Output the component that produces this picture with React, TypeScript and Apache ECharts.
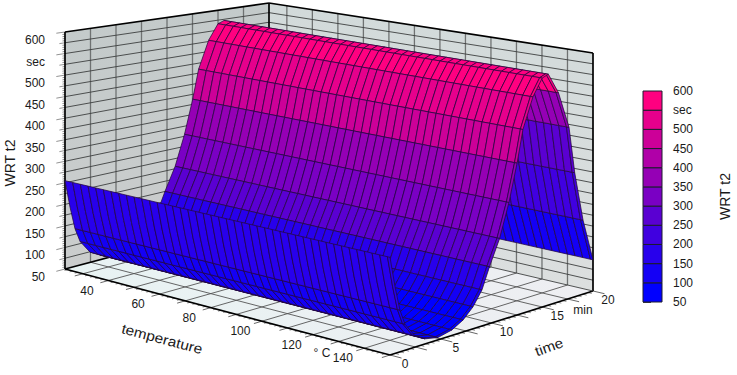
import React, { useEffect, useRef } from "react";
import * as echarts from "echarts";

// ---- data ----
const temperatures = [33, 36, 39, 42, 45, 48, 51, 54, 57, 60, 63, 66, 69, 72, 75, 78, 81, 84, 87, 90, 93, 96, 99, 102, 105, 108, 111, 114, 117, 120, 123, 126, 129, 132, 135, 138, 141, 144, 147, 150, 153, 156, 159, 160];
const rowTimes = [0, 0.5, 0.98, 1.48, 2.46, 3.44, 4.72, 6.1, 7.2, 8.18, 9.06, 9.8, 10.8, 11.72, 12.52, 13.1, 14.08, 15, 15.6, 16.6, 17.64, 18.2, 19.02, 20];
const rowWrt = [255, 190, 138, 105, 74, 61, 55, 62, 76, 98, 129, 175, 231, 305, 388, 460, 528, 566, 572, 525, 441, 334, 220, 122];
const rowRuled = [1, 0, 1, 1, 1, 1, 1, 1, 1, 1, 1, 1, 1, 1, 1, 1, 1, 1, 1, 1, 1, 1, 1, 1];
const rowBands = [2, 1, 1, 0, 0, 0, 0, 0, 1, 2, 4, 5, 6, 8, 9, 10, 10, 10, 6, 4, 3, 1];
const bandColors = ["#0000ff", "#1400f5", "#2800ec", "#4000e0", "#5a00d2", "#7a00c4", "#9500b5", "#b000a8", "#cc0098", "#e6008c", "#ff0080"];
const wrtLevels = [50, 100, 150, 200, 250, 300, 350, 400, 450, 500, 550, 600];
const tempTickLabels = [40, 60, 80, 100, 120, 140];
const timeTickLabels = [0, 5, 10, 15, 20];
const wrtTickLabels = ["50", "100", "150", "200", "250", "300", "350", "400", "450", "500", "sec", "600"];
const tempGrid = [40, 50, 60, 70, 80, 90, 100, 110, 120, 130, 140, 150];
const timeGrid = [2.5, 5, 7.5, 10, 12.5, 15, 17.5];
const wrtGrid = [75, 100, 125, 150, 175, 200, 225, 250, 275, 300, 325, 350, 375, 400, 425, 450, 475, 500, 525, 550, 575];

// ---- projection of the box ----
const T_MIN = 33, T_MAX = 160, TIME_MAX = 20, W_MIN = 50, W_MAX = 600;
const FLOOR_CORNERS = [[65, 269], [390, 355], [593, 291], [269, 215]];
const TOP_CORNERS = [[65, 32], [390, 93], [593, 53], [269, 3]];
const FONT = "Liberation Sans";

function bilinear(c: number[][], u: number, v: number) {
  const a = (1 - v) * (1 - u), b = (1 - v) * u, d = v * u, e = v * (1 - u);
  return [a * c[0][0] + b * c[1][0] + d * c[2][0] + e * c[3][0], a * c[0][1] + b * c[1][1] + d * c[2][1] + e * c[3][1]];
}
function project(T: number, t: number, z: number) {
  const u = (T - T_MIN) / (T_MAX - T_MIN), v = t / TIME_MAX, w = (z - W_MIN) / (W_MAX - W_MIN);
  const f = bilinear(FLOOR_CORNERS, u, v), p = bilinear(TOP_CORNERS, u, v);
  return [f[0] + (p[0] - f[0]) * w, f[1] + (p[1] - f[1]) * w];
}

// ---- box faces ----
const gradient = (x0: number, y0: number, x1: number, y1: number, a: string, b: string) =>
  new echarts.graphic.LinearGradient(x0, y0, x1, y1, [{ offset: 0, color: a }, { offset: 1, color: b }]);
const faces = [
  { pts: [[T_MIN, 0, W_MIN], [T_MIN, TIME_MAX, W_MIN], [T_MIN, TIME_MAX, W_MAX], [T_MIN, 0, W_MAX]], fill: () => gradient(0, 0, 0, 1, "#c3caca", "#cbcdcd") },
  { pts: [[T_MIN, TIME_MAX, W_MIN], [T_MAX, TIME_MAX, W_MIN], [T_MAX, TIME_MAX, W_MAX], [T_MIN, TIME_MAX, W_MAX]], fill: () => gradient(0, 0, 0, 1, "#d2dada", "#dcdfdf") },
  { pts: [[T_MIN, 0, W_MIN], [T_MAX, 0, W_MIN], [T_MAX, TIME_MAX, W_MIN], [T_MIN, TIME_MAX, W_MIN]], fill: () => gradient(0, 0, 1, 0, "#e8f3f3", "#eeeef2") },
];

// ---- line segments in data space: [T1,t1,z1,T2,t2,z2,style] ----
const lineStyles = [
  { stroke: "#6f7272", lineWidth: 1.3 },
  { stroke: "#3d3f3f", lineWidth: 0.9 },
  { stroke: "#555555", lineWidth: 0.9 },
  { stroke: "#000000", lineWidth: 1.7 },
  { stroke: "#777777", lineWidth: 0.8 },
];
const segs: number[][] = [];
timeGrid.forEach((t) => {
  segs.push([T_MIN, t, W_MIN, T_MIN, t, W_MAX, 0]);
  segs.push([T_MIN, t, W_MIN, T_MAX, t, W_MIN, 2]);
});
tempGrid.forEach((T) => {
  segs.push([T, TIME_MAX, W_MIN, T, TIME_MAX, W_MAX, 0]);
  segs.push([T, 0, W_MIN, T, TIME_MAX, W_MIN, 2]);
});
wrtGrid.forEach((z) => {
  segs.push([T_MIN, 0, z, T_MIN, TIME_MAX, z, 1]);
  segs.push([T_MIN, TIME_MAX, z, T_MAX, TIME_MAX, z, 1]);
});
// axis ticks
for (let z = W_MIN; z <= W_MAX; z += 5) {
  const len = z % 50 === 0 ? 0.85 : z % 25 === 0 ? 0.55 : 0.25;
  segs.push([T_MIN, -len, z, T_MIN, 0, z, 4]);
}
for (let T = 34; T <= T_MAX; T += 2) {
  const len = T % 10 === 0 ? 0.8 : 0.3;
  segs.push([T, -len, W_MIN, T, 0, W_MIN, T % 10 === 0 ? 2 : 4]);
}
for (let t = 0; t <= TIME_MAX; t += 0.5) {
  const len = t % 2.5 === 0 ? 4.5 : 1.5;
  segs.push([T_MAX, t, W_MIN, T_MAX + len, t, W_MIN, t % 2.5 === 0 ? 2 : 4]);
}
// box edges
segs.push([T_MIN, 0, W_MAX, T_MIN, TIME_MAX, W_MAX, 3]);
segs.push([T_MIN, TIME_MAX, W_MAX, T_MAX, TIME_MAX, W_MAX, 3]);
segs.push([T_MIN, 0, W_MIN, T_MIN, 0, W_MAX, 3]);
segs.push([T_MIN, TIME_MAX, W_MIN, T_MIN, TIME_MAX, W_MAX, 3]);
segs.push([T_MAX, TIME_MAX, W_MIN, T_MAX, TIME_MAX, W_MAX, 3]);
segs.push([T_MIN, 0, W_MIN, T_MAX, 0, W_MIN, 3]);
segs.push([T_MAX, 0, W_MIN, T_MAX, TIME_MAX, W_MIN, 3]);
segs.push([T_MIN, 0, W_MIN, T_MIN, TIME_MAX, W_MIN, 3]);
segs.push([T_MIN, TIME_MAX, W_MIN, T_MAX, TIME_MAX, W_MIN, 1]);

// ---- surface cells, far to near ----
const ruledRows = rowRuled.map((r, i) => (r ? i : -1)).filter((i) => i >= 0);
const cells: number[][] = [];
for (let g = ruledRows.length - 2; g >= 0; g--) {
  for (let c = 0; c < temperatures.length - 1; c++) cells.push([c, g]);
}

// ---- texts placed from the projection ----
type Lab = { text: string; x: number; y: number; rot?: number; size?: number; align?: string; sx?: number };
const labels: Lab[] = [];
tempTickLabels.forEach((T) => {
  const p = project(T, 0, W_MIN);
  labels.push({ text: String(T), x: p[0] + 4, y: p[1] + 17 });
});
timeTickLabels.forEach((t) => {
  const p = project(T_MAX, t, W_MIN);
  labels.push({ text: String(t), x: p[0] + 15, y: p[1] + 9 });
});
wrtLevels.forEach((z, i) => {
  const p = project(T_MIN, 0, z);
  labels.push({ text: wrtTickLabels[i], x: p[0] - 20, y: p[1] + 8, align: "right" });
});
labels.push({ text: "WRT t2", x: 10, y: 163, rot: Math.PI / 2, size: 14 });
labels.push({ text: "temperature", x: 162, y: 339, rot: (-14.8 * Math.PI) / 180, size: 14, sx: 1.1 });
labels.push({ text: "time", x: 549, y: 347, rot: (20 * Math.PI) / 180, size: 14, sx: 1.1 });
labels.push({ text: "° C", x: 322, y: 353, size: 12 });
labels.push({ text: "min", x: 583, y: 310, size: 12 });

const barBands = bandColors.map((_, i) => [wrtLevels[i], wrtLevels[i + 1]]);

export default function App() {
  const ref = useRef<HTMLDivElement>(null);
  useEffect(() => {
    const chart = echarts.init(ref.current!, null, { renderer: "svg" });
    chart.setOption({
      animation: false,
      backgroundColor: "#ffffff",
      grid: { left: 643, top: 91, width: 19, height: 211 },
      xAxis: { type: "value", min: 0, max: 1, show: false },
      yAxis: {
        type: "value", min: 50, max: 600, interval: 50, position: "right",
        axisLine: { show: false },
        splitLine: { show: false },
        axisTick: { show: true, length: 8, lineStyle: { color: "#444", width: 1 } },
        axisLabel: {
          margin: 11, fontSize: 12, color: "#1a1a1a", fontFamily: FONT,
          formatter: (v: number) => (v === 550 ? "sec" : String(v)),
        },
        name: "WRT t2", nameLocation: "middle", nameRotate: 90, nameGap: 56,
        nameTextStyle: { fontSize: 14, color: "#1a1a1a", fontFamily: FONT },
      },
      series: [
        {
          type: "custom", coordinateSystem: "none", silent: true, z: 1,
          data: faces.map((_, i) => [i]),
          renderItem: (params: any) => {
            const f = faces[params.dataIndex];
            return {
              type: "polygon",
              shape: { points: f.pts.map((p) => project(p[0], p[1], p[2])) },
              style: { fill: f.fill() },
            };
          },
        },
        {
          type: "custom", coordinateSystem: "none", silent: true, z: 2,
          data: segs.map((_, i) => [i]),
          renderItem: (params: any) => {
            const s = segs[params.dataIndex];
            const a = project(s[0], s[1], s[2]), b = project(s[3], s[4], s[5]);
            return {
              type: "line",
              shape: { x1: a[0], y1: a[1], x2: b[0], y2: b[1] },
              style: { ...lineStyles[s[6]], fill: null },
            };
          },
        },
        {
          type: "custom", coordinateSystem: "none", silent: true, z: 3,
          data: cells,
          renderItem: (params: any) => {
            const [c, g] = cells[params.dataIndex];
            const i0 = ruledRows[g], i1 = ruledRows[g + 1];
            const T0 = temperatures[c], T1 = temperatures[c + 1];
            const pts: number[][] = [];
            for (let i = i0; i <= i1; i++) pts.push(project(T0, rowTimes[i], rowWrt[i]));
            for (let i = i1; i >= i0; i--) pts.push(project(T1, rowTimes[i], rowWrt[i]));
            return {
              type: "polygon",
              shape: { points: pts },
              style: { fill: bandColors[rowBands[g]], stroke: "#26083f", lineWidth: 0.75 },
            };
          },
        },
        {
          type: "custom", coordinateSystem: "none", silent: true, z: 4,
          data: labels.map((_, i) => [i]),
          renderItem: (params: any) => {
            const l = labels[params.dataIndex];
            return {
              type: "text",
              x: l.x, y: l.y, rotation: l.rot || 0,
              scaleX: l.sx || 1,
              style: {
                text: l.text, fontSize: l.size || 12, fontFamily: FONT, fill: "#1a1a1a",
                align: l.align || "center", verticalAlign: "middle",
              },
            };
          },
        },
        {
          type: "custom", xAxisIndex: 0, yAxisIndex: 0, silent: true, z: 5,
          data: barBands,
          renderItem: (params: any, api: any) => {
            const a = api.coord([0, barBands[params.dataIndex][0]]);
            const b = api.coord([1, barBands[params.dataIndex][1]]);
            return {
              type: "rect",
              shape: { x: a[0], y: b[1], width: b[0] - a[0], height: a[1] - b[1] },
              style: { fill: bandColors[params.dataIndex], stroke: "#1c1c2c", lineWidth: 1 },
            };
          },
        },
      ],
    });
    return () => chart.dispose();
  }, []);
  return <div ref={ref} style={{ position: "fixed", left: 0, top: 0, width: 737, height: 375 }} />;
}
